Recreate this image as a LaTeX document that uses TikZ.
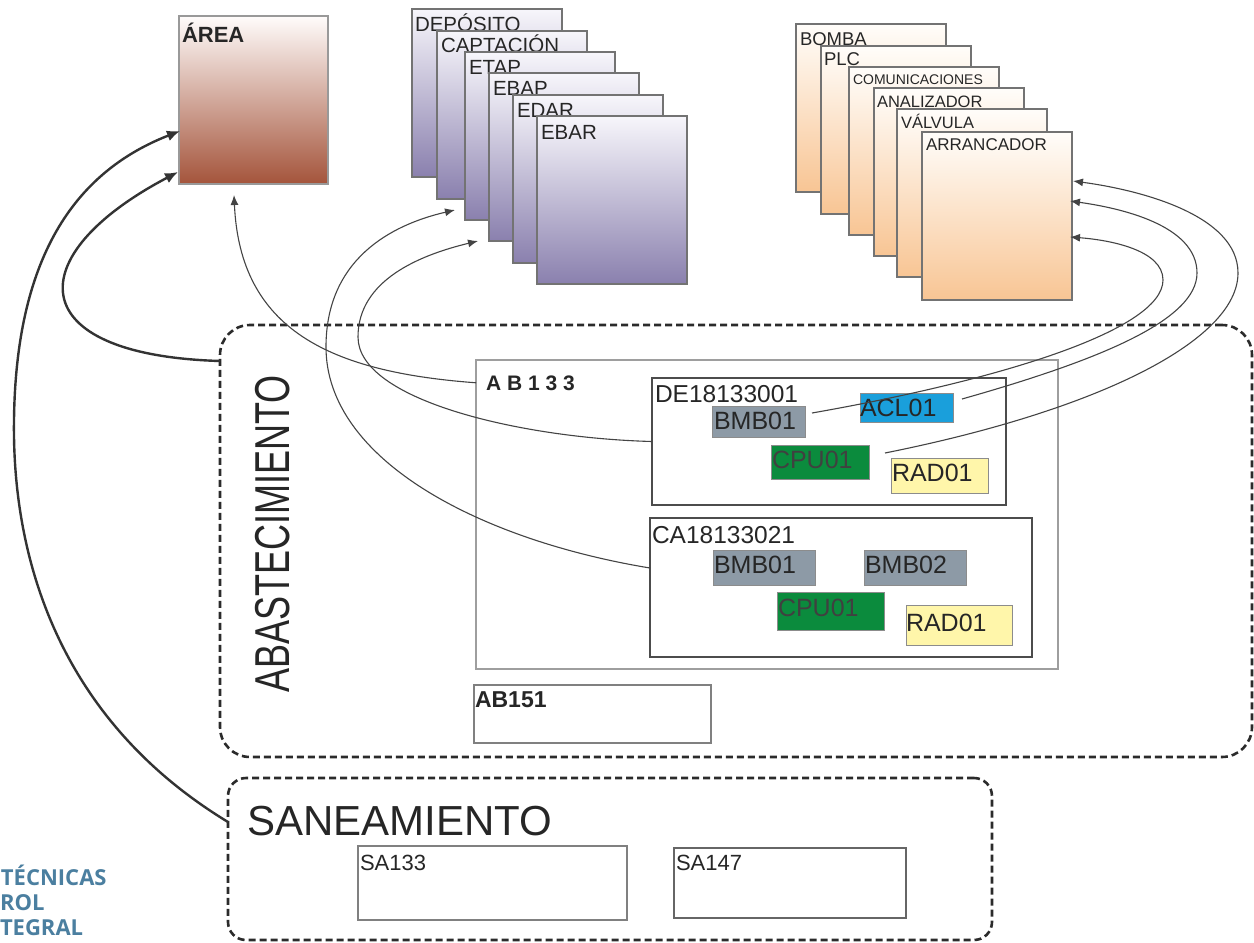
\documentclass[tikz,border=0pt]{standalone}
\usepackage{fontspec}
\setmainfont{Liberation Sans}
\newfontfamily\logofont{Open Sans}
\newfontfamily\spacedfont[LetterSpace=28]{Liberation Sans}
\usetikzlibrary{arrows.meta,calc}

\definecolor{txt}{HTML}{262626}
\definecolor{areatop}{HTML}{FFFCFB}
\definecolor{areabot}{HTML}{A4543B}
\definecolor{lavtop}{HTML}{F7F6FB}
\definecolor{lavbot}{HTML}{8A80AE}
\definecolor{peachtop}{HTML}{FFFDFA}
\definecolor{peachbot}{HTML}{F8C594}
\definecolor{bmbgray}{HTML}{8D9AA6}
\definecolor{aclblue}{HTML}{1A9FDB}
\definecolor{cpugreen}{HTML}{0B8B3D}
\definecolor{radyellow}{HTML}{FFF6AA}
\definecolor{logoblue}{HTML}{4B7FA0}
\definecolor{wire}{HTML}{444444}
\definecolor{groupline}{HTML}{2B2B2B}

\tikzset{
  plate/.style={anchor=north west, inner sep=0pt, outer sep=0pt, line width=1.2pt, draw=black!55},
  areabox/.style={plate, top color=areatop, bottom color=areabot, draw=black!40},
  lavbox/.style={plate, top color=lavtop, bottom color=lavbot},
  peachbox/.style={plate, top color=peachtop, bottom color=peachbot},
  tag/.style={anchor=base west, inner sep=0pt, outer sep=0pt, text=txt},
  frame/.style={anchor=north west, inner sep=0pt, outer sep=0pt, line width=1.5pt, draw=black!70},
  lightframe/.style={frame, draw=black!38, line width=1.8pt},
  chip/.style={anchor=north west, inner sep=0pt, outer sep=0pt, line width=1pt, draw=black!45},
  groupbox/.style={anchor=north west, inner sep=0pt, outer sep=0pt, draw=groupline,
    line width=2.6pt, dash pattern=on 7pt off 4pt, rounded corners=#1},
  thinarrow/.style={draw=wire, line width=1.1pt, -{Latex[length=10pt,width=8pt]}},
  thickarrow/.style={draw=black!80, line width=2.4pt, -{Latex[length=13pt,width=11pt]}},
  stackfont/.style={font=\fontsize{20.5}{20.5}\selectfont},
  chipfont/.style={font=\fontsize{25}{25}\selectfont},
  logotext/.style={tag, text=logoblue, font=\logofont\bfseries\fontsize{22}{22}\selectfont},
}

\begin{document}
\begin{tikzpicture}[x=1pt, y=-1pt]
  % canvas
  \path[fill=white] (0,0) rectangle (1254,943);
  \useasboundingbox (0,0) rectangle (1254,943);

  % area box
  \node[areabox, minimum width=149pt, minimum height=168pt] (area) at (179,16) {};
  \node[tag, font=\bfseries\fontsize{22}{22}\selectfont] (areaT) at (182,42) {ÁREA};

  % facility types
  \node[lavbox, minimum width=150pt, minimum height=168pt] (dep) at (412,9) {};
  \node[tag, stackfont] (depT) at (415,31) {DEPÓSITO};
  \node[lavbox, minimum width=150pt, minimum height=168pt] (capt) at (437,31) {};
  \node[tag, stackfont] (captT) at (441,52) {CAPTACIÓN};
  \node[lavbox, minimum width=150pt, minimum height=168pt] (etap) at (465,52) {};
  \node[tag, stackfont] (etapT) at (469,74) {ETAP};
  \node[lavbox, minimum width=150pt, minimum height=168pt] (ebap) at (489,73) {};
  \node[tag, stackfont] (ebapT) at (493,95) {EBAP};
  \node[lavbox, minimum width=150pt, minimum height=168pt] (edar) at (513,95) {};
  \node[tag, stackfont] (edarT) at (517,117) {EDAR};
  \node[lavbox, minimum width=150pt, minimum height=168pt] (ebar) at (537,116) {};
  \node[tag, stackfont] (ebarT) at (541,139) {EBAR};

  % equipment types
  \node[peachbox, minimum width=150pt, minimum height=168pt] (bomba) at (796,24) {};
  \node[tag, font=\fontsize{18.5}{18.5}\selectfont] (bombaT) at (800,45) {BOMBA};
  \node[peachbox, minimum width=150pt, minimum height=168pt] (plc) at (821,46) {};
  \node[tag, font=\fontsize{18.5}{18.5}\selectfont] (plcT) at (824,65) {PLC};
  \node[peachbox, minimum width=150pt, minimum height=168pt] (comu) at (849,67) {};
  \node[tag, font=\fontsize{14}{14}\selectfont] (comuT) at (853,84) {COMUNICACIONES};
  \node[peachbox, minimum width=150pt, minimum height=168pt] (anal) at (874,88) {};
  \node[tag, font=\fontsize{16.5}{16.5}\selectfont] (analT) at (877,107) {ANALIZADOR};
  \node[peachbox, minimum width=150pt, minimum height=168pt] (valv) at (897,109) {};
  \node[tag, font=\fontsize{16.5}{16.5}\selectfont] (valvT) at (901,128) {VÁLVULA};
  \node[peachbox, minimum width=150pt, minimum height=168pt] (arr) at (922,132) {};
  \node[tag, font=\fontsize{17}{17}\selectfont] (arrT) at (926,150) {ARRANCADOR};

  % supply group
  \node[groupbox=30pt, minimum width=1032pt, minimum height=432pt] (abast) at (220,325) {};
  \node[rotate=90, inner sep=0pt, text=txt, font=\fontsize{49}{49}\selectfont] (abastT) at (273,534)
    {\scalebox{0.735}[1]{ABASTECIMIENTO}};

  \node[lightframe, minimum width=582pt, minimum height=309pt] (ab133) at (476,360) {};
  \node[tag, font=\spacedfont\bfseries\fontsize{21}{21}\selectfont] (ab133T) at (486,390) {AB133};

  \node[frame, minimum width=354pt, minimum height=127pt] (de) at (652,378) {};
  \node[tag, font=\fontsize{24.5}{24.5}\selectfont] (deT) at (655,402) {DE18133001};
  \node[chip, fill=bmbgray, minimum width=93pt, minimum height=31pt] (bmbde) at (712,406) {};
  \node[tag, chipfont] (bmbdeT) at (714,429) {BMB01};
  \node[chip, fill=aclblue, minimum width=93pt, minimum height=29pt] (acl) at (860,393) {};
  \node[tag, chipfont] (aclT) at (860,416) {ACL01};
  \node[chip, fill=cpugreen, minimum width=98pt, minimum height=34pt] (cpude) at (771,445) {};
  \node[tag, chipfont, text=black!75] (cpudeT) at (772,468) {CPU01};
  \node[chip, fill=radyellow, minimum width=97pt, minimum height=35pt] (radde) at (891,458) {};
  \node[tag, chipfont] (raddeT) at (892,481) {RAD01};

  \node[frame, minimum width=382pt, minimum height=139pt] (ca) at (650,518) {};
  \node[tag, font=\fontsize{24.5}{24.5}\selectfont] (caT) at (652,543) {CA18133021};
  \node[chip, fill=bmbgray, minimum width=102pt, minimum height=35pt] (bmbca) at (713,550) {};
  \node[tag, chipfont] (bmbcaT) at (714,573) {BMB01};
  \node[chip, fill=bmbgray, minimum width=102pt, minimum height=35pt] (bmb02) at (864,550) {};
  \node[tag, chipfont] (bmb02T) at (865,573) {BMB02};
  \node[chip, fill=cpugreen, minimum width=107pt, minimum height=38pt] (cpuca) at (777,592) {};
  \node[tag, chipfont, text=black!75] (cpucaT) at (778,616) {CPU01};
  \node[chip, fill=radyellow, minimum width=106pt, minimum height=40pt] (radca) at (906,605) {};
  \node[tag, chipfont] (radcaT) at (906,631) {RAD01};

  \node[frame, draw=black!50, line width=1.3pt, minimum width=237pt, minimum height=58pt] (ab151) at (474,685) {};
  \node[tag, font=\bfseries\fontsize{23}{23}\selectfont] (ab151T) at (475,707) {AB151};

  % sanitation group
  \node[groupbox=18pt, minimum width=764pt, minimum height=162pt] (sanea) at (228,778) {};
  \node[tag, font=\fontsize{42}{42}\selectfont] (saneaT) at (247,835) {SANEAMIENTO};
  \node[frame, draw=black!50, line width=1.3pt, minimum width=269pt, minimum height=74pt] (sa133) at (358,846) {};
  \node[tag, font=\fontsize{22}{22}\selectfont] (sa133T) at (360,870) {SA133};
  \node[frame, draw=black!60, line width=1.3pt, minimum width=232pt, minimum height=70pt] (sa147) at (674,848) {};
  \node[tag, font=\fontsize{22}{22}\selectfont] (sa147T) at (676,870) {SA147};

  % corner lettering
  \node[logotext] (logoA) at (1,885) {TÉCNICAS};
  \node[logotext] (logoB) at (0,910) {ROL};
  \node[logotext] (logoC) at (0,935) {TEGRAL};

  % connector end points
  \coordinate (abIn) at ($(abast.north west)+(0,36)$);
  \coordinate (saIn) at ($(sanea.north west)+(0,44)$);
  \coordinate (areaLow) at ($(area.south west)+(-1,-12)$);
  \coordinate (areaHigh) at ($(area.south west)+(1,-53)$);
  \coordinate (areaBelow) at ($(area.south west)+(55,11)$);
  \coordinate (ab133In) at (ab133.west |- ab133T.west);
  \coordinate (caIn) at ($(ca.north west)+(0,50)$);
  \coordinate (etapTip) at ($(etap.south west)+(-10,-10)$);
  \coordinate (ebapTip) at ($(ebap.south west)+(-11,0)$);
  \coordinate (bmbIn) at ($(bmbde.north east)+(7,7)$);
  \coordinate (aclIn) at ($(acl.north east)+(9,6)$);
  \coordinate (cpuIn) at ($(cpude.north east)+(16,8)$);
  \coordinate (arrHigh) at ($(arr.north east)+(1,49)$);
  \coordinate (arrMid) at ($(arr.north east)+(-2,69)$);
  \coordinate (arrLow) at ($(arr.north east)+(-2,105)$);

  % group to area
  \draw[thickarrow] (abIn) .. controls (20,355) and (20,255) .. (areaLow);
  \draw[thickarrow] (saIn) .. controls (60,720) and (12,560) .. (14,420)
                           .. controls (16,250) and (80,170) .. (areaHigh);

  % site to area and facility type
  \draw[thinarrow] (ab133In) .. controls (330,372) and (240,330) .. (areaBelow);
  \draw[thinarrow] (de.west) .. controls (520,438) and (358,400) .. (358,337)
                             .. controls (358,280) and (420,255) .. (ebapTip);
  \draw[thinarrow] (caIn) .. controls (480,540) and (326,460) .. (326,347)
                          .. controls (326,260) and (390,225) .. (etapTip);

  % equipment to equipment type
  \draw[thinarrow] (bmbIn) .. controls (1000,380) and (1163,330) .. (1163,280)
                           .. controls (1163,250) and (1110,240) .. (arrLow);
  \draw[thinarrow] (aclIn) .. controls (1100,360) and (1197,320) .. (1197,273)
                           .. controls (1197,225) and (1120,208) .. (arrMid);
  \draw[thinarrow] (cpuIn) .. controls (1100,410) and (1238,340) .. (1238,273)
                           .. controls (1238,215) and (1140,190) .. (arrHigh);
\end{tikzpicture}
\end{document}
